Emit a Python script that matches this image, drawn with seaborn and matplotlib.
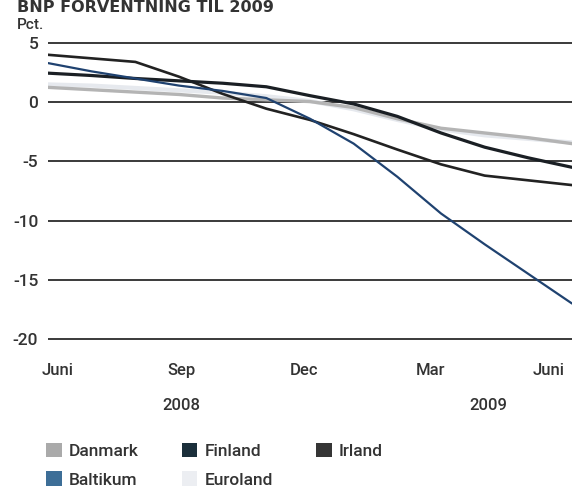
import matplotlib
matplotlib.use("Agg")
import matplotlib.pyplot as plt
import seaborn as sns
import pandas as pd
from matplotlib.patches import Patch

# ---- data (months since June 2008) ----
months = list(range(13))
tick_labels = ["Juni", "Sep", "Dec", "Mar", "Juni"]
year_labels = ["2008", "2009"]
series_names = ["Danmark", "Baltikum", "Finland", "Euroland", "Irland"]

danmark = [1.25, 1.05, 0.85, 0.65, 0.35, 0.2, 0.05, -0.45, -1.4, -2.2, -2.6, -3.0, -3.5]
baltikum = [3.3, 2.6, 2.0, 1.4, 0.95, 0.35, -1.4, -3.5, -6.3, -9.4, -12.0, -14.5, -17.0]
finland = [2.45, 2.25, 2.0, 1.8, 1.6, 1.3, 0.55, -0.15, -1.2, -2.6, -3.8, -4.7, -5.5]
euroland = [1.5, 1.4, 1.2, 1.0, 0.8, 0.5, 0.1, -0.6, -1.5, -2.3, -2.8, -3.1, -3.4]
irland = [4.0, 3.7, 3.4, 2.15, 0.7, -0.55, -1.5, -2.7, -4.0, -5.25, -6.2, -6.6, -7.0]

values = {"Danmark": danmark, "Baltikum": baltikum, "Finland": finland,
          "Euroland": euroland, "Irland": irland}

rows = []
for name in ["Euroland", "Danmark", "Irland", "Finland", "Baltikum"]:
    for m, v in zip(months, values[name]):
        rows.append({"month": m, "value": v, "series": name})
df = pd.DataFrame(rows)

line_colors = {"Danmark": "#b4b4b4", "Baltikum": "#1f4270", "Finland": "#1a1f24",
               "Euroland": "#e6e9ee", "Irland": "#222222"}
swatch_colors = {"Danmark": "#aaaaaa", "Baltikum": "#3d6e97", "Finland": "#1b2f3b",
                 "Euroland": "#eceef2", "Irland": "#353535"}
line_widths = {"Danmark": 2.4, "Baltikum": 1.6, "Finland": 2.3,
               "Euroland": 3.0, "Irland": 1.9}

sns.set_theme(style="white")
plt.rcParams["font.family"] = ["Roboto", "DejaVu Sans"]
plt.rcParams["axes.unicode_minus"] = False
text_color = "#333333"

W, H = 573, 491
fig = plt.figure(figsize=(W / 100, H / 100), dpi=100)
ax = fig.add_axes([48 / W, 1 - 342.6 / H, 524 / W, (342.6 - 39.4) / H])

sns.lineplot(data=df, x="month", y="value", hue="series", size="series",
             palette=line_colors, sizes=line_widths,
             hue_order=["Euroland", "Danmark", "Irland", "Finland", "Baltikum"],
             legend=False, ax=ax)

ax.set_xlim(0, 12)
ax.set_ylim(-20.3, 5.3)
ax.set_yticks([5, 0, -5, -10, -15, -20])
ax.set_yticklabels(["5", "0", "-5", "-10", "-15", "-20"])
ax.yaxis.grid(True, color="#3a3a3a", linewidth=1.4)
ax.xaxis.grid(False)
ax.set_axisbelow(True)
for s in ax.spines.values():
    s.set_visible(False)
ax.set_xticks([0.23, 3.05, 5.86, 8.75, 11.47])
ax.set_xticklabels(tick_labels)
ax.tick_params(axis="y", length=0, pad=7, labelsize=12.5, labelcolor=text_color)
ax.tick_params(axis="x", length=0, pad=15, labelsize=12, labelcolor=text_color)
for lab in ax.get_xticklabels() + ax.get_yticklabels():
    lab.set_fontweight("medium")
ax.set_xlabel("")
ax.set_ylabel("")

fig.text(181 / W, 1 - 405 / H, year_labels[0], ha="center", va="center",
         fontsize=12, fontweight="medium", color=text_color)
fig.text(488 / W, 1 - 405 / H, year_labels[1], ha="center", va="center",
         fontsize=12, fontweight="medium", color=text_color)

fig.text(17 / W, 1 - 12 / H, "BNP FORVENTNING TIL 2009", ha="left", va="baseline",
         fontsize=11.5, fontweight="bold", color=text_color, family="DejaVu Sans")
fig.text(17 / W, 1 - 29 / H, "Pct.", ha="left", va="baseline",
         fontsize=11, fontweight="medium", color=text_color)

handles = [Patch(facecolor=swatch_colors[n], edgecolor="none", label=n) for n in series_names]
fig.legend(handles=handles, loc="upper left", bbox_to_anchor=(46 / W, 1 - 443 / H),
           ncol=3, frameon=False, borderaxespad=0, borderpad=0,
           handlelength=0.9, handleheight=0.9, handletextpad=0.4,
           columnspacing=2.5, labelspacing=0.7, fontsize=12.5,
           labelcolor=text_color, prop={"size": 12.5, "weight": "medium"})

fig.savefig("out.png", dpi=100)
